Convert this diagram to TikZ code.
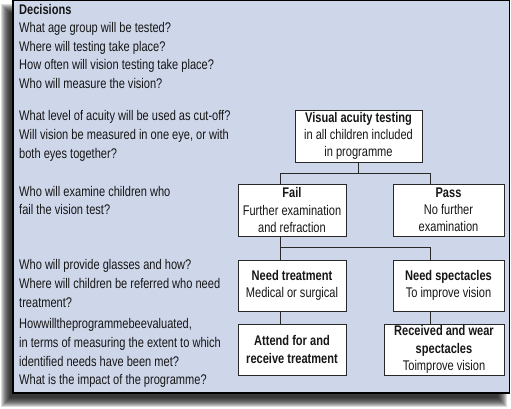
\documentclass[tikz,border=0pt]{standalone}
\usepackage{fontspec}
\setmainfont{Liberation Sans}[FakeStretch=0.79]
\definecolor{panel}{RGB}{206,214,233}
\definecolor{txt}{RGB}{22,22,22}
\definecolor{edge}{RGB}{40,40,40}
\begin{document}
\begin{tikzpicture}[x=1pt,y=-1pt,
  lt/.style={anchor=base west, inner sep=0pt, font=\fontsize{14}{16}\selectfont, text=txt},
  box/.style={draw=edge, line width=0.9pt, fill=white, inner sep=0pt, align=center,
     font=\fontsize{14}{17.2}\selectfont, text=txt},
  conn/.style={draw=edge, line width=0.9pt}]
\useasboundingbox (0,0) rectangle (511,409);
% shadow
\foreach \i in {0,...,9}{
  \fill[black, opacity=0.14] (1+\i,4+\i) rectangle (507-\i,407-\i);
}
% panel
\filldraw[fill=panel, draw=black, line width=1.3pt] (13,0.6) rectangle (509.3,393);
% left texts
\node[lt] (d0) at (19,14.5) {\textbf{Decisions}};
\node[lt] (d1) at (19,33) {What age group will be tested?};
\node[lt] (d2) at (19,51.5) {Where will testing take place?};
\node[lt] (d3) at (19,70) {How often will vision testing take place?};
\node[lt] (d4) at (19,88.5) {Who will measure the vision?};
\node[lt] (e1) at (19,121) {What level of acuity will be used as cut-off?};
\node[lt] (e2) at (19,139.5) {Will vision be measured in one eye, or with};
\node[lt] (e3) at (19,158) {both eyes together?};
\node[lt] (f1) at (19,196) {Who will examine children who};
\node[lt] (f2) at (19,214.5) {fail the vision test?};
\node[lt] (g1) at (19,269) {Who will provide glasses and how?};
\node[lt] (g2) at (19,288) {Where will children be referred who need};
\node[lt] (g3) at (19,307) {treatment?};
\node[lt] (h1) at (19,328) {Howwilltheprogrammebeevaluated,};
\node[lt] (h2) at (19,347) {in terms of measuring the extent to which};
\node[lt] (h3) at (19,366) {identified needs have been met?};
\node[lt] (h4) at (19,384.5) {What is the impact of the programme?};
% boxes
\node[box, minimum width=127pt, minimum height=52pt] (va) at (358.5,136)
  {\textbf{Visual acuity testing}\\in all children included\\in programme};
\node[box, minimum width=108pt, minimum height=52pt] (fail) at (292,210)
  {\textbf{Fail}\\Further examination\\and refraction};
\node[box, minimum width=111pt, minimum height=52pt] (pass) at (448.5,210)
  {\textbf{Pass}\\No further\\examination};
\node[box, minimum width=108pt, minimum height=51pt] (needt) at (292,285.5)
  {\textbf{Need treatment}\\Medical or surgical};
\node[box, minimum width=111pt, minimum height=51pt] (needs) at (448.5,285.5)
  {\textbf{Need spectacles}\\To improve vision};
\node[box, minimum width=108pt, minimum height=51pt] (attend) at (292,349.5)
  {\textbf{Attend for and}\\\textbf{receive treatment}};
\node[box, minimum width=120pt, minimum height=51pt] (recv) at (444,349.5)
  {\textbf{Received and wear}\\\textbf{spectacles}\\Toimprove vision};
% connectors
\draw[conn] (va.south) -- ++(0,11) coordinate (j1);
\draw[conn] ([xshift=-12pt]fail.north) |- (j1) -| ([xshift=-18.5pt]pass.north);
\draw[conn] ([xshift=-12pt]fail.south) -- ([xshift=-12pt]needt.north);
\draw[conn] ([xshift=-12pt,yshift=-11pt]fail.south) -| ([xshift=-18.5pt]needs.north);
\draw[conn] ([xshift=-12pt]needt.south) -- ([xshift=-12pt]attend.north);
\draw[conn] ([xshift=-18.5pt]needs.south) -- ([xshift=-14pt]recv.north);
\end{tikzpicture}
\end{document}
